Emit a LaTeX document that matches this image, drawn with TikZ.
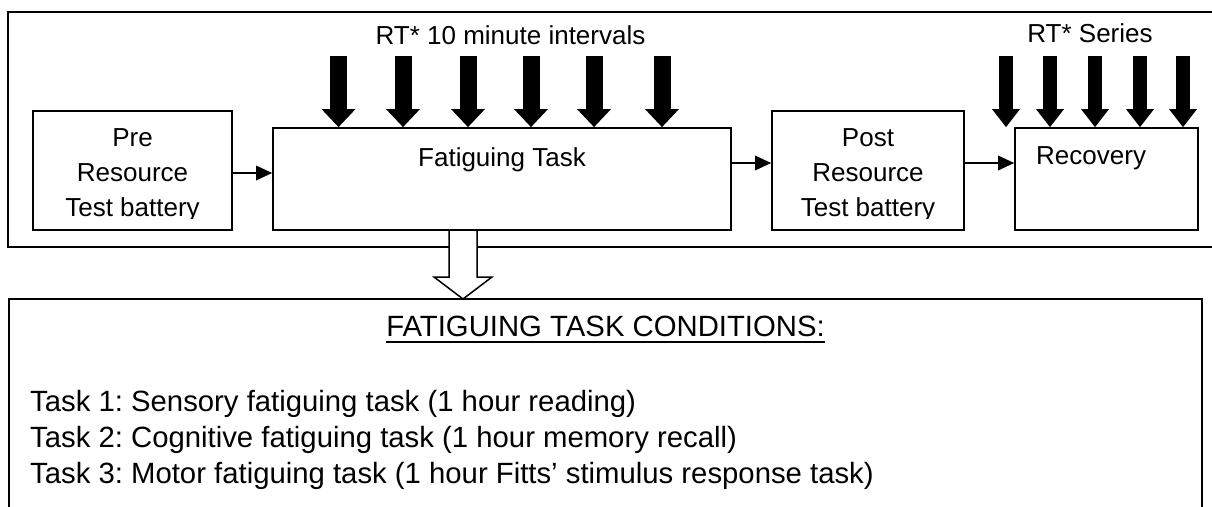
\documentclass[tikz,border=0pt]{standalone}
\usepackage{fontspec}
\setmainfont{Liberation Sans}
\usetikzlibrary{arrows.meta}
\frenchspacing

\begin{document}
\begin{tikzpicture}[x=1pt, y=-1pt,
    box/.style={draw, line width=1.8pt, inner sep=0pt},
    stagetext/.style={font=\fontsize{26pt}{35pt}\selectfont, inner sep=0pt, align=center},
    listtext/.style={font=\fontsize{29.3pt}{36pt}\selectfont, inner sep=0pt, align=left},
    flow/.style={line width=2pt, -{Triangle[length=16pt 0 0, width=15pt 0 0, line width=0pt 0 0]}},
    rtbig/.style={line width=17pt, -{Triangle[length=18pt 0 0, width=34pt 0 0, line width=0pt 0 0]}},
    rtsmall/.style={line width=14pt, -{Triangle[length=18pt 0 0, width=28pt 0 0, line width=0pt 0 0]}},
    hollow/.style={draw, line width=1.5pt, fill=white, line join=miter}]

\useasboundingbox (0,0) rectangle (1212,506);

% Helper macro for one RT* probe arrow
% Arguments: name, x-position, style, target box
\def\rtarrow#1#2#3#4{
    \coordinate (#1) at (#2,56);
    \draw[#3] (#1) -- (#1 |- #4.north);
}

% Frames (the top one runs off the right edge)
\node[box, minimum width=1220pt, minimum height=235pt] (stage) at (618,129.5) {};
\node[box, minimum width=1193pt, minimum height=221pt] (conditions) at (605.5,409.5) {};

% Stage boxes
\node[box, minimum width=199pt, minimum height=119pt] (pre) at (132.5,170.5) {};
\node[box, minimum width=458pt, minimum height=102pt] (fatigue) at (502,179) {};
\node[box, minimum width=192pt, minimum height=119pt] (post) at (868,170.5) {};
\node[box, minimum width=183pt, minimum height=102pt] (recovery) at (1106.5,179) {};

% Box texts (battery texts are cut off by the box margin)
\begin{scope}
    \clip (pre.north west) rectangle ([yshift=12pt]pre.south east);
    \node[stagetext, anchor=north] (pretext) at (132.5,128.7) {Pre\\Resource\\Test battery};
\end{scope}
\begin{scope}
    \clip (post.north west) rectangle ([yshift=12pt]post.south east);
    \node[stagetext, anchor=north] (posttext) at (868,128.7) {Post\\Resource\\Test battery};
\end{scope}
\node[stagetext, anchor=base] (fatiguetext) at (502,166) {Fatiguing Task};
\node[stagetext, anchor=base west] (recoverytext) at (1036,164.3) {Recovery};

% Arrow heights
\coordinate (lvlpre) at (0,173);
\coordinate (lvlpost) at (0,163);

% Flow between stages
\draw[flow] (pre.east |- lvlpre) -- (fatigue.west |- lvlpre);
\draw[flow] (fatigue.east |- lvlpost) -- (post.west |- lvlpost);
\draw[flow] (post.east |- lvlpost) -- (recovery.west |- lvlpost);

% RT* probes during the task
\node[stagetext, anchor=base] (rtint) at (510.5,44) {RT* 10 minute intervals};
\rtarrow{rta}{338.5}{rtbig}{fatigue}
\rtarrow{rtb}{403}{rtbig}{fatigue}
\rtarrow{rtc}{468}{rtbig}{fatigue}
\rtarrow{rtd}{531}{rtbig}{fatigue}
\rtarrow{rte}{594}{rtbig}{fatigue}
\rtarrow{rtf}{662}{rtbig}{fatigue}

% RT* probes during recovery
\node[stagetext, anchor=base] (rtser) at (1090,42) {RT* Series};
\rtarrow{rsa}{1006}{rtsmall}{recovery}
\rtarrow{rsb}{1050}{rtsmall}{recovery}
\rtarrow{rsc}{1095}{rtsmall}{recovery}
\rtarrow{rsd}{1140}{rtsmall}{recovery}
\rtarrow{rse}{1183}{rtsmall}{recovery}

% Hollow arrow down to the conditions
\draw[hollow] (449,231) -- (449,277) -- (434,277) -- (463,299) -- (492,277) -- (477,277) -- (477,231);

% Conditions list
\node[listtext, anchor=base] (condtitle) at (605.5,336) {FATIGUING TASK CONDITIONS:};
\draw[line width=2.5pt] ([yshift=-6pt]condtitle.base west) -- ([yshift=-6pt]condtitle.base east);
\node[listtext, anchor=north west] (tasks) at (30,390) {Task 1: Sensory fatiguing task (1 hour reading)\\
    Task 2: Cognitive fatiguing task (1 hour memory recall)\\
    Task 3: Motor fatiguing task (1 hour Fitts' stimulus response task)};

\end{tikzpicture}
\end{document}
